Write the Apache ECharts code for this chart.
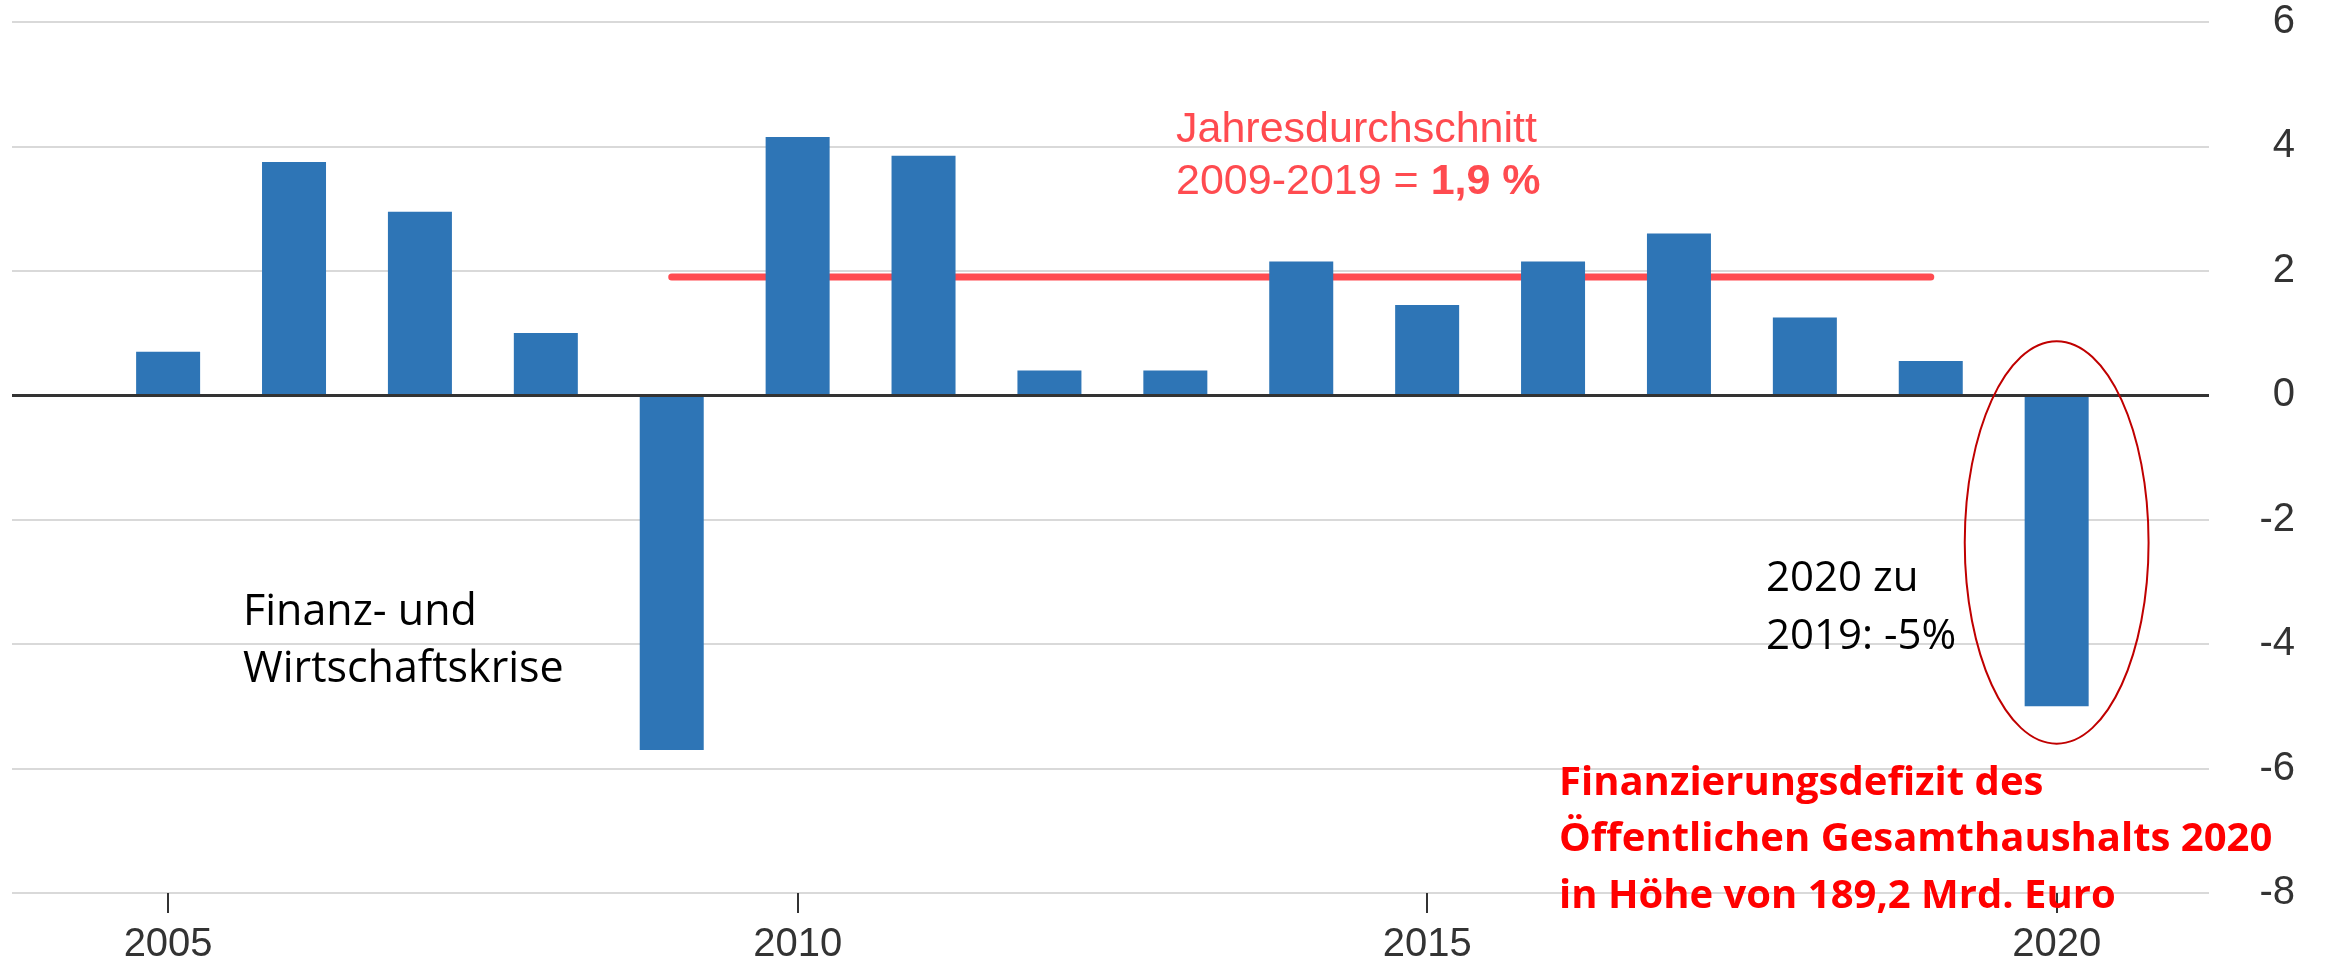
<!DOCTYPE html>
<html>
<head>
<meta charset="utf-8">
<script src="https://cdn.jsdelivr.net/npm/echarts@6/dist/echarts.min.js"></script>
<style>
html,body{margin:0;padding:0;background:#fff;}
#chart{width:2330px;height:969px;}
</style>
</head>
<body>
<div id="chart"></div>
<script>
// ---- data ----
const years = [2005, 2006, 2007, 2008, 2009, 2010, 2011, 2012, 2013, 2014, 2015, 2016, 2017, 2018, 2019, 2020];
const growth = [0.7, 3.75, 2.95, 1.0, -5.7, 4.15, 3.85, 0.4, 0.4, 2.15, 1.45, 2.15, 2.6, 1.25, 0.55, -5.0];
const avgStart = 2009;
const avgEnd = 2019;
const avgValue = 1.9;
const xTickYears = [2005, 2010, 2015, 2020];
const yMin = -8, yMax = 6, yStep = 2;
const avgLabelLine1 = 'Jahresdurchschnitt';
const avgLabelLine2 = '2009-2019 = ';
const avgLabelBold = '1,9 %';
const crisisText = 'Finanz- und\nWirtschaftskrise';
const changeText = '2020 zu\n2019: -5%';
const deficitText = 'Finanzierungsdefizit des\nÖffentlichen Gesamthaushalts 2020\nin Höhe von 189,2 Mrd. Euro';
// ellipse anchor (data space)
const highlightYear = 2020, highlightTop = 0.87, highlightBottom = -5.6, highlightHalfWidth = 0.73;

const chart = echarts.init(document.getElementById('chart'), null, {renderer: 'canvas'});
const axisFont = 'Liberation Sans, Arial, sans-serif';

const option = {
  animation: false,
  backgroundColor: '#ffffff',
  grid: {left: 12, right: 121, top: 22, bottom: 76, containLabel: false},
  xAxis: {
    type: 'value',
    min: 2003.76,
    max: 2021.21,
    axisLine: {show: false, onZero: false},
    splitLine: {show: false},
    axisTick: {show: true, customValues: xTickYears, length: 20, lineStyle: {color: '#333', width: 2}},
    axisLabel: {customValues: xTickYears, fontSize: 40, color: '#333', margin: 32, fontFamily: axisFont,
      formatter: v => String(v)}
  },
  yAxis: {
    type: 'value',
    position: 'right',
    min: yMin, max: yMax, interval: yStep,
    axisLine: {show: false},
    axisTick: {show: false},
    axisLabel: {fontSize: 40, color: '#333', align: 'right', margin: 86, fontFamily: axisFont},
    splitLine: {lineStyle: {color: '#d9d9d9', width: 2}}
  },
  series: [
    {
      type: 'line',
      z: 2,
      data: [[avgStart, avgValue], [avgEnd, avgValue]],
      showSymbol: false,
      symbol: 'none',
      lineStyle: {color: '#FF4B50', width: 7, cap: 'round'}
    },
    {
      type: 'bar',
      z: 3,
      barWidth: 64,
      data: years.map((y, i) => [y, growth[i]]),
      itemStyle: {color: '#2E75B6'},
      markLine: {
        silent: true,
        symbol: 'none',
        label: {show: false},
        data: [{yAxis: 0}],
        lineStyle: {color: '#333', width: 3, type: 'solid'}
      }
    }
  ]
};
chart.setOption(option);

const c = chart.convertToPixel({gridIndex: 0}, [highlightYear, (highlightTop + highlightBottom) / 2]);
const t = chart.convertToPixel({gridIndex: 0}, [highlightYear + highlightHalfWidth, highlightTop]);

chart.setOption({
  graphic: [
    {
      type: 'ellipse',
      z: 10,
      shape: {cx: c[0], cy: c[1], rx: t[0] - c[0], ry: c[1] - t[1]},
      style: {fill: 'none', stroke: '#C00000', lineWidth: 2}
    },
    {
      type: 'text',
      z: 10,
      left: 1176, top: 109,
      style: {
        text: '{n|' + avgLabelLine1 + '}\n{n|' + avgLabelLine2 + '}{b|' + avgLabelBold + '}',
        rich: {
          n: {fontSize: 43, fontFamily: axisFont, fill: '#FF4B50', color: '#FF4B50', lineHeight: 52},
          b: {fontSize: 43, fontFamily: axisFont, fontWeight: 'bold', fill: '#FF4B50', color: '#FF4B50', lineHeight: 52}
        }
      }
    },
    {
      type: 'text',
      z: 10,
      left: 243, top: 584,
      style: {text: crisisText, fontSize: 43, fontFamily: 'Open Sans', fill: '#000', lineHeight: 57}
    },
    {
      type: 'text',
      z: 10,
      left: 1766, top: 550,
      style: {text: changeText, fontSize: 42, fontFamily: 'Open Sans', fill: '#000', lineHeight: 58}
    },
    {
      type: 'text',
      z: 10,
      left: 1559, top: 755,
      style: {text: deficitText, fontSize: 40, fontWeight: 'bold', fontFamily: 'Open Sans', fill: '#FF0000', lineHeight: 56.5}
    }
  ]
});
</script>
</body>
</html>
